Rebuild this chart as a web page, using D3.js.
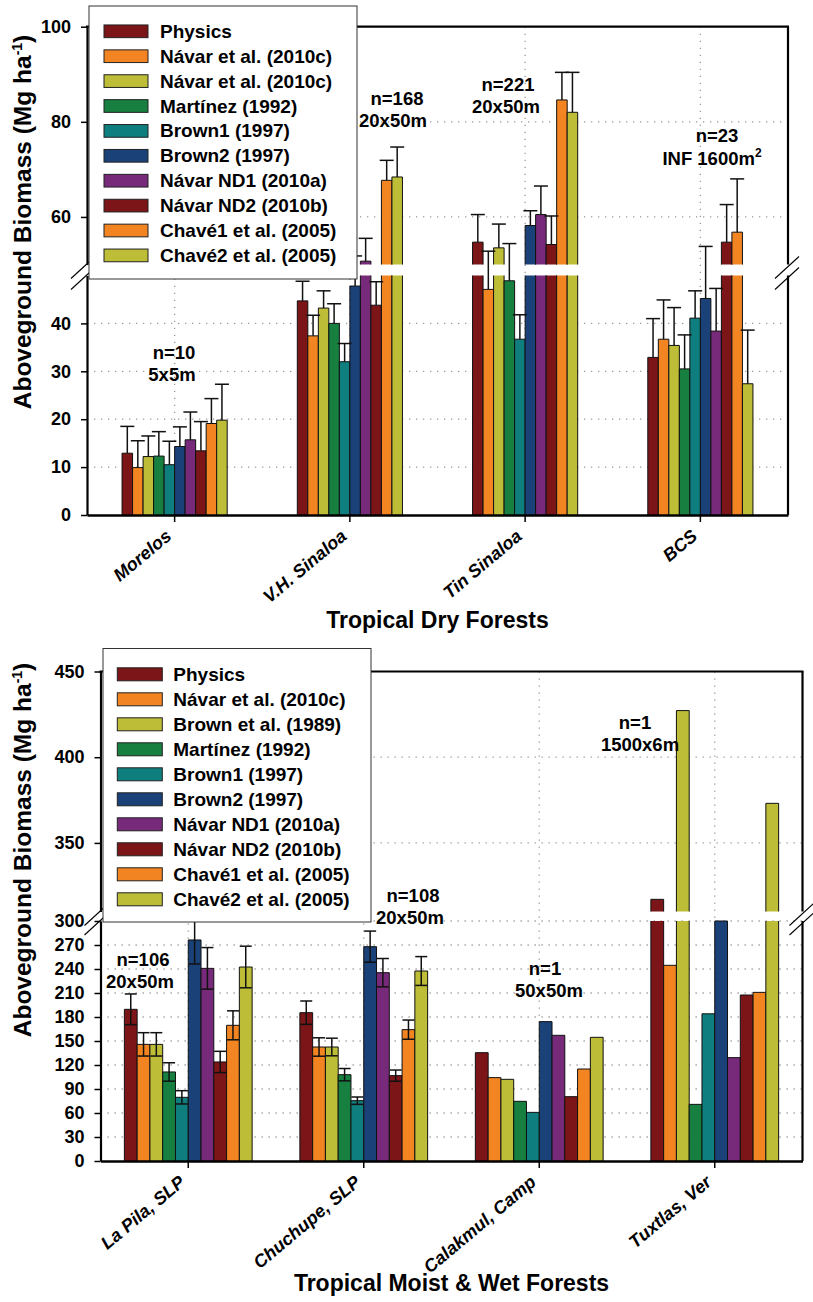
<!DOCTYPE html>
<html>
<head>
<meta charset="utf-8">
<script src="https://cdn.jsdelivr.net/npm/d3@7"></script>
<style>
  body { margin: 0; background: #fff; }
  text { font-family: "Liberation Sans", Arial, sans-serif; font-weight: bold; fill: #000; }
</style>
</head>
<body>
<svg id="chart" width="813" height="1302"></svg>
<script>
// ---- series (same colour order in both panels) ----
const seriesColors = ["#7b1518", "#f28522", "#bdbd37", "#178040", "#0e7f7e",
                      "#1b4179", "#782a7a", "#7b1518", "#f28522", "#bdbd37"];
const dryLegend = ["Physics", "Návar et al. (2010c)", "Návar et al. (2010c)", "Martínez (1992)",
                   "Brown1 (1997)", "Brown2 (1997)", "Návar ND1 (2010a)", "Návar ND2 (2010b)",
                   "Chavé1 et al. (2005)", "Chavé2 et al. (2005)"];
const wetLegend = ["Physics", "Návar et al. (2010c)", "Brown et al. (1989)", "Martínez (1992)",
                   "Brown1 (1997)", "Brown2 (1997)", "Návar ND1 (2010a)", "Návar ND2 (2010b)",
                   "Chavé1 et al. (2005)", "Chavé2 et al. (2005)"];

// ---- tropical dry forests (Mg/ha, mean and +error) ----
const dryCategories = ["Morelos", "V.H. Sinaloa", "Tin Sinaloa", "BCS"];
const morelosMeans    = [12.9, 9.9, 12.2, 12.3, 10.5, 14.3, 15.7, 13.4, 19.1, 19.8];
const morelosErrors   = [5.6, 5.6, 4.3, 5.1, 4.9, 4.1, 5.8, 6.1, 5.2, 7.5];
const vhSinaloaMeans  = [44.7, 37.4, 43.2, 40.0, 32.0, 47.8, 50.7, 43.8, 67.7, 68.4];
const vhSinaloaErrors = [4.1, 4.3, 3.6, 4.1, 3.8, 4.0, 4.8, 4.9, 4.2, 6.3];
const tinSinaloaMeans = [54.7, 47.1, 53.5, 48.9, 36.7, 58.2, 60.5, 54.2, 84.6, 82.0];
const tinSinaloaErrors= [5.8, 5.7, 5.0, 5.5, 5.1, 3.1, 6.0, 6.0, 5.8, 8.4];
const bcsMeans        = [32.9, 36.7, 35.4, 30.5, 41.1, 45.2, 38.4, 54.7, 56.8, 27.4];
const bcsErrors       = [8.1, 8.2, 7.9, 7.1, 5.7, 8.6, 8.9, 7.9, 11.2, 11.2];
const dryNotes = [["n=10", "5x5m"], ["n=168", "20x50m"], ["n=221", "20x50m"], ["n=23", "INF 1600m", "2"]];

// ---- tropical moist & wet forests ----
const wetCategories = ["La Pila, SLP", "Chuchupe, SLP", "Calakmul, Camp", "Tuxtlas, Ver"];
const laPilaMeans     = [189.6, 145.8, 145.8, 111.3, 79.6, 276.3, 240.8, 123.8, 169.6, 242.5];
const laPilaErrors    = [19.2, 14.6, 14.6, 11.5, 8.3, 30.0, 26.0, 13.3, 18.1, 26.0];
const chuchupeMeans   = [185.4, 142.5, 142.5, 107.9, 75.4, 267.9, 235.4, 106.7, 164.2, 237.5];
const chuchupeErrors  = [14.6, 11.5, 11.0, 7.7, 4.6, 19.5, 17.7, 7.0, 12.0, 18.0];
const calakmulMeans   = [135.4, 104.2, 102.1, 74.6, 60.8, 174.2, 157.1, 80.4, 115.0, 154.6];
const tuxtlasMeans    = [317.1, 244.6, 427.2, 70.8, 184.0, 300.0, 129.2, 207.5, 210.8, 373.1];
const wetNotes = [["n=106", "20x50m"], ["n=108", "20x50m"], ["n=1", "50x50m"], ["n=1", "1500x6m"]];

// ---- axis ticks ----
const dryLowTicks = [0, 10, 20, 30, 40];
const dryUpTicks  = [60, 80, 100];
const wetLowTicks = [0, 30, 60, 90, 120, 150, 180, 210, 240, 270, 300];
const wetUpTicks  = [350, 400, 450];

const svg = d3.select("#chart");
svg.append("rect").attr("width", 813).attr("height", 1302).attr("fill", "#fff");

function drawPanel(cfg) {
  const g = svg.append("g");
  const x = d3.scaleBand().domain(cfg.categories).range([cfg.left, cfg.right]).padding(0);
  const groupW = x.bandwidth() * cfg.groupFrac;
  const inner = d3.scaleBand().domain(d3.range(10)).range([-groupW / 2, groupW / 2]).padding(0);
  const yLow = d3.scaleLinear().domain(cfg.lowDomain).range(cfg.lowRange);
  const yUp = d3.scaleLinear().domain(cfg.upDomain).range(cfg.upRange);
  const lowMax = cfg.lowDomain[1], upMin = cfg.upDomain[0];
  const yAny = v => v <= lowMax ? yLow(v)
    : v >= upMin ? yUp(v)
    : yLow(lowMax) + (yUp(upMin) - yLow(lowMax)) * (v - lowMax) / (upMin - lowMax);
  const cx = c => x(c) + x.bandwidth() / 2;
  const base = yLow(0), top = yUp(cfg.upDomain[1]);

  // dotted grid
  const grid = g.append("g").attr("stroke", "#9a9a9a").attr("stroke-width", 1.3)
    .attr("stroke-dasharray", "1.3 5.7");
  cfg.lowTicks.filter(t => t > 0).forEach(t =>
    grid.append("line").attr("x1", cfg.left).attr("x2", cfg.right).attr("y1", yLow(t)).attr("y2", yLow(t)));
  cfg.upTicks.filter(t => t < cfg.upDomain[1]).forEach(t =>
    grid.append("line").attr("x1", cfg.left).attr("x2", cfg.right).attr("y1", yUp(t)).attr("y2", yUp(t)));
  cfg.categories.forEach(c =>
    grid.append("line").attr("x1", cx(c)).attr("x2", cx(c)).attr("y1", top).attr("y2", base));

  // bars (split across the axis break)
  const bars = g.append("g");
  cfg.categories.forEach((c, ci) => {
    cfg.means[ci].forEach((v, si) => {
      const bx = cx(c) + inner(si), bw = inner.bandwidth();
      const col = seriesColors[si];
      const yl = yLow(Math.min(v, lowMax));
      bars.append("rect").attr("x", bx).attr("y", yl).attr("width", bw).attr("height", base - yl).attr("fill", col);
      const closed = v <= lowMax;
      bars.append("path").attr("fill", "none").attr("stroke", "#111").attr("stroke-width", 1)
        .attr("d", closed
          ? `M${bx},${base}V${yl}H${bx + bw}V${base}`
          : `M${bx},${base}V${yl}M${bx + bw},${yl}V${base}`);
      if (v > upMin) {
        const yb = yUp(upMin), yt = yUp(v);
        bars.append("rect").attr("x", bx).attr("y", yt).attr("width", bw).attr("height", yb - yt).attr("fill", col);
        bars.append("path").attr("fill", "none").attr("stroke", "#111").attr("stroke-width", 1)
          .attr("d", `M${bx},${yb}V${yt}H${bx + bw}V${yb}`);
      }
    });
  });

  // error bars
  const err = g.append("g").attr("stroke", "#111").attr("stroke-width", 1.5);
  cfg.categories.forEach((c, ci) => {
    const errs = cfg.errors[ci];
    if (!errs) return;
    cfg.means[ci].forEach((v, si) => {
      const ex = cx(c) + inner(si) + inner.bandwidth() / 2;
      const hi = yAny(v + errs[si]);
      const lo = cfg.twoSided ? yAny(v - errs[si]) : yAny(v);
      err.append("line").attr("x1", ex).attr("x2", ex).attr("y1", lo).attr("y2", hi);
      err.append("line").attr("x1", ex - cfg.cap / 2).attr("x2", ex + cfg.cap / 2).attr("y1", hi).attr("y2", hi);
      if (cfg.twoSided)
        err.append("line").attr("x1", ex - cfg.cap / 2).attr("x2", ex + cfg.cap / 2).attr("y1", lo).attr("y2", lo);
    });
  });

  // y axes (two segments)
  const axLow = d3.axisLeft(yLow).tickValues(cfg.lowTicks).tickSize(6).tickSizeOuter(0).tickPadding(10);
  const axUp = d3.axisLeft(yUp).tickValues(cfg.upTicks).tickSize(6).tickSizeOuter(0).tickPadding(10);
  [axLow, axUp].forEach(ax => {
    const a = g.append("g").attr("transform", `translate(${cfg.left},0)`).call(ax);
    a.select(".domain").attr("stroke", "#000").attr("stroke-width", 2.2);
    a.selectAll(".tick line").attr("stroke", "#000").attr("stroke-width", 1.5);
    a.selectAll(".tick text").attr("font-size", 18).attr("font-family", null).attr("fill", "#000");
  });

  // right frame (two segments) and top frame
  const frame = g.append("g").attr("stroke", "#000").attr("stroke-width", 2.2);
  frame.append("line").attr("x1", cfg.right).attr("x2", cfg.right).attr("y1", base).attr("y2", yLow(lowMax));
  frame.append("line").attr("x1", cfg.right).attr("x2", cfg.right).attr("y1", yUp(upMin)).attr("y2", top);
  frame.append("line").attr("x1", cfg.left - 1).attr("x2", cfg.right + 1).attr("y1", top).attr("y2", top);

  // break marks
  const marks = g.append("g").attr("stroke", "#000").attr("stroke-width", 1.1);
  [cfg.left - 4, cfg.right - 1].forEach(mx => {
    [yUp(upMin), yLow(lowMax)].forEach(my => {
      marks.append("line").attr("x1", mx - 12).attr("y1", my + 14).attr("x2", mx + 12).attr("y2", my - 8);
    });
  });

  // x axis
  const axB = d3.axisBottom(x).tickSize(7).tickSizeOuter(0).tickFormat("");
  const b = g.append("g").attr("transform", `translate(0,${base})`).call(axB);
  b.select(".domain").attr("stroke", "#000").attr("stroke-width", 2.6);
  b.selectAll(".tick line").attr("stroke", "#000").attr("stroke-width", 1.5);
  cfg.categories.forEach(c => {
    g.append("text").attr("text-anchor", "end").attr("font-style", "italic").attr("font-size", 18)
      .attr("transform", `translate(${cx(c) - 2},${base + 23}) rotate(-40)`).text(c);
  });

  // sample notes
  cfg.notes.forEach((n, i) => {
    const pos = cfg.notePos[i];
    g.append("text").attr("text-anchor", "middle").attr("font-size", 18.5)
      .attr("x", pos[0]).attr("y", pos[1] + 6.5).text(n[0]);
    const t = g.append("text").attr("text-anchor", "middle").attr("font-size", 18.5)
      .attr("x", pos[2]).attr("y", pos[3] + 6.5).text(n[1]);
    if (n[2]) t.append("tspan").attr("font-size", 12).attr("dy", -8).text(n[2]);
  });

  // titles
  g.append("text").attr("text-anchor", "middle").attr("font-size", 23)
    .attr("x", (cfg.left + cfg.right) / 2).attr("y", cfg.xTitleY).text(cfg.xTitle);
  const yt = g.append("text").attr("text-anchor", "middle").attr("font-size", 24.5)
    .attr("transform", `translate(${cfg.yTitleX},${cfg.yTitleY}) rotate(-90)`);
  yt.append("tspan").text("Aboveground Biomass (Mg ha");
  yt.append("tspan").attr("font-size", 14).attr("dy", -9).text("-1");
  yt.append("tspan").attr("dy", 9).text(")");

  // legend
  const L = cfg.legend;
  const lg = g.append("g");
  lg.append("rect").attr("x", L.x).attr("y", L.y).attr("width", L.w).attr("height", L.h)
    .attr("fill", "#fff").attr("stroke", "#333").attr("stroke-width", 1);
  cfg.legendNames.forEach((name, i) => {
    const ry = L.row0 + i * L.step;
    lg.append("rect").attr("x", L.sx).attr("y", ry - L.sh / 2).attr("width", L.sw).attr("height", L.sh)
      .attr("fill", seriesColors[i]).attr("stroke", "#222").attr("stroke-width", 1);
    lg.append("text").attr("x", L.tx).attr("y", ry + 6.5).attr("font-size", 19).text(name);
  });
}

drawPanel({
  categories: dryCategories,
  means: [morelosMeans, vhSinaloaMeans, tinSinaloaMeans, bcsMeans],
  errors: [morelosErrors, vhSinaloaErrors, tinSinaloaErrors, bcsErrors],
  twoSided: false, cap: 14, groupFrac: 0.6,
  left: 87, right: 788,
  lowDomain: [0, 50], lowRange: [515, 275.5],
  upDomain: [50, 100], upRange: [264.5, 26.7],
  lowTicks: dryLowTicks, upTicks: dryUpTicks,
  notes: dryNotes,
  notePos: [[174, 352, 172, 374], [397, 98, 393, 120], [508, 84, 506, 106], [717, 135, 712, 158]],
  xTitle: "Tropical Dry Forests", xTitleY: 628,
  yTitleX: 31, yTitleY: 222,
  legendNames: dryLegend,
  legend: { x: 89, y: 6, w: 268, h: 273, row0: 31.3, step: 24.9, sx: 104, sw: 44, sh: 12.7, tx: 160 }
});

drawPanel({
  categories: wetCategories,
  means: [laPilaMeans, chuchupeMeans, calakmulMeans, tuxtlasMeans],
  errors: [laPilaErrors, chuchupeErrors, null, null],
  twoSided: true, cap: 12, groupFrac: 0.728,
  left: 100.5, right: 802.5,
  lowDomain: [0, 300], lowRange: [1161, 921],
  upDomain: [310, 450], upRange: [911.5, 671.5],
  lowTicks: wetLowTicks, upTicks: wetUpTicks,
  notes: wetNotes,
  notePos: [[143, 959, 140, 981], [413, 895, 410, 917], [545, 968, 549, 990], [635, 722, 640, 744]],
  xTitle: "Tropical Moist & Wet Forests", xTitleY: 1291,
  yTitleX: 31, yTitleY: 850,
  legendNames: wetLegend,
  legend: { x: 103, y: 648.5, w: 268, h: 273.5, row0: 674.3, step: 25, sx: 117.3, sw: 45, sh: 13, tx: 173.3 }
});
</script>
</body>
</html>
